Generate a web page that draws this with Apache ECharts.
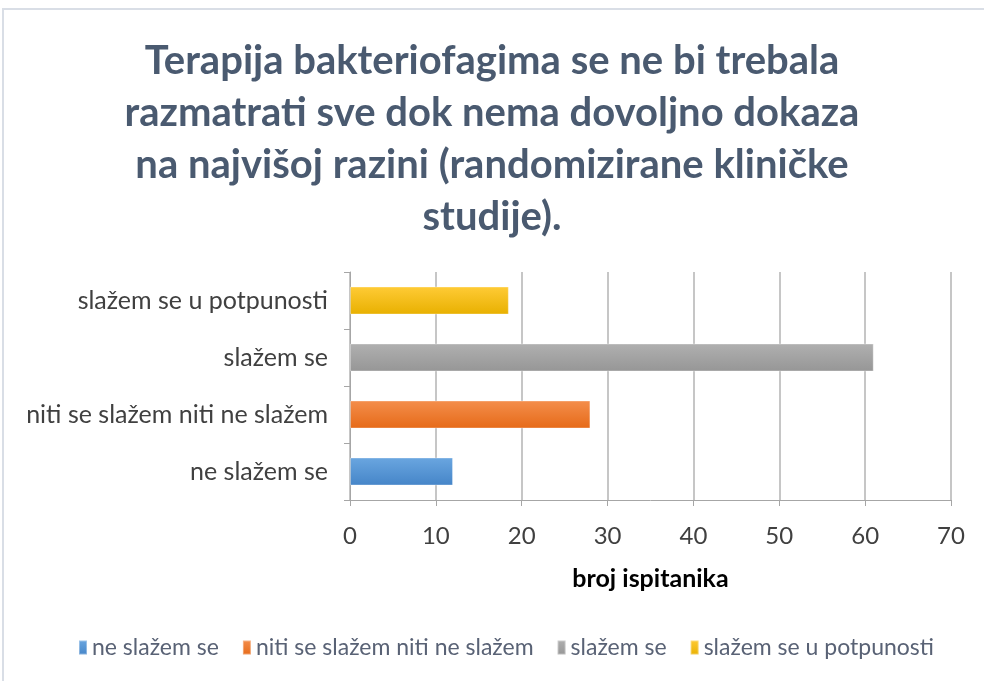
<!DOCTYPE html>
<html>
<head>
<meta charset="utf-8">
<script src="https://cdn.jsdelivr.net/npm/echarts@6/dist/echarts.min.js"></script>
<style>
  html, body { margin: 0; padding: 0; background: #fff; }
  #chart { width: 984px; height: 681px; }
</style>
</head>
<body>
<div id="chart"></div>
<script>
// podaci s grafikona
const categories = ['ne slažem se', 'niti se slažem niti ne slažem', 'slažem se', 'slažem se u potpunosti']
const values = [12, 28, 61, 18.5]
const xTicks = [0, 10, 20, 30, 40, 50, 60, 70]
// boje: gornja (svjetlija) i donja (tamnija) nijansa
const topColors = ['#6aa6e0', '#f48e4c', '#b0b0b0', '#ffcb36']
const bottomColors = ['#4585c8', '#e66a18', '#969696', '#e8b000']

const font = 'Lato, "Open Sans", sans-serif'
const myChart = echarts.init(document.getElementById('chart'))

// svaka kategorija je svoja serija (zbog legende), složene da budu centrirane
const series = categories.map((name, i) => ({
  name: name,
  type: 'bar',
  stack: 'sve',
  barWidth: 28,
  data: categories.map((c, j) => (j === i ? values[j] : null)),
  itemStyle: {
    color: new echarts.graphic.LinearGradient(0, 0, 0, 1, [
      { offset: 0, color: topColors[i] },
      { offset: 1, color: bottomColors[i] },
    ]),
    borderColor: 'rgba(255,255,255,0.35)',
    borderWidth: 1,
  },
}))

myChart.setOption({
  animation: false,
  backgroundColor: '#fff',
  color: bottomColors,
  graphic: [
    {
      type: 'rect',
      shape: { x: 3, y: 9, width: 1100, height: 800 },
      style: { fill: 'none', stroke: '#d9dee6', lineWidth: 2 },
    },
  ],
  title: {
    text: 'Terapija bakteriofagima se ne bi trebala\nrazmatrati sve dok nema dovoljno dokaza\nna najvišoj razini (randomizirane kliničke\nstudije).',
    left: 'center',
    top: 30,
    textStyle: {
      fontFamily: font,
      fontSize: 40,
      fontWeight: 'bold',
      color: '#4a5a70',
      lineHeight: 52,
    },
  },
  grid: {
    left: 350,
    right: 33,
    top: 272,
    bottom: 181,
  },
  xAxis: {
    type: 'value',
    min: xTicks[0],
    max: xTicks[xTicks.length - 1],
    interval: 10,
    name: 'broj ispitanika',
    nameLocation: 'middle',
    nameGap: 66,
    nameTextStyle: { fontFamily: font, fontSize: 25, fontWeight: 'bold', color: '#000' },
    axisLine: { show: true, lineStyle: { color: '#a6a6a6' } },
    axisTick: { show: true, length: 6, lineStyle: { color: '#a6a6a6' } },
    axisLabel: { fontFamily: font, fontSize: 24, color: '#404040', margin: 24 },
    splitLine: { show: true, lineStyle: { color: '#b3b3b3', width: 1.5 } },
  },
  yAxis: {
    type: 'category',
    data: categories,
    axisLine: { show: true, lineStyle: { color: '#a6a6a6' } },
    axisTick: { show: true, length: 6, lineStyle: { color: '#a6a6a6' } },
    axisLabel: { fontFamily: font, fontSize: 25, color: '#404040', margin: 22 },
  },
  legend: {
    bottom: 17,
    left: 73,
    itemWidth: 8,
    itemHeight: 14,
    itemGap: 23,
    icon: 'rect',
    textStyle: { fontFamily: font, fontSize: 23, color: '#596275' },
    data: categories,
  },
  series: series,
})
</script>
</body>
</html>
